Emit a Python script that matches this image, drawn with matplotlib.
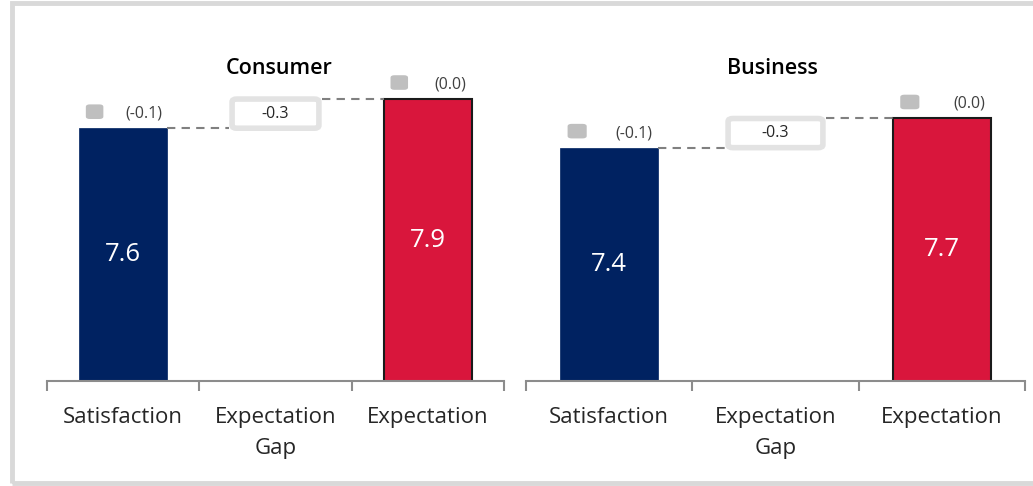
import matplotlib
matplotlib.use("Agg")
import matplotlib.pyplot as plt
from matplotlib.patches import FancyBboxPatch, Rectangle

plt.rcParams['font.family'] = ['Open Sans', 'DejaVu Sans']

# values per segment
segments = ["Consumer", "Business"]
categories = ["Satisfaction", "Expectation\nGap", "Expectation"]
satisfaction = [7.6, 7.4]
expectation = [7.9, 7.7]
sat_change = ["(-0.1)", "(-0.1)"]
exp_change = ["(0.0)", "(0.0)"]

NAVY = "#002261"
RED = "#D9163C"
AXIS_GREY = "#8C8C8C"
Y_MIN, Y_MAX = 5.0, 8.6

fig = plt.figure(figsize=(10.33, 4.86), dpi=100)

# outer light-grey frame (open on the right)
fig.patches.append(Rectangle((12 / 1033, 3 / 486), 1.05, 480 / 486, transform=fig.transFigure,
                             fill=False, edgecolor="#D9D9D9", linewidth=3.5))

panels = [
    dict(rect=[47 / 1033, 105 / 486, 457 / 1033, 350 / 486], bar_w=0.58, title_x=279 / 1033),
    dict(rect=[526 / 1033, 105 / 486, 499 / 1033, 350 / 486], bar_w=0.59, title_x=772 / 1033),
]

for i, p in enumerate(panels):
    ax = fig.add_axes(p["rect"])
    ax.set_xlim(-0.5, 2.5)
    ax.set_ylim(Y_MIN, Y_MAX)
    w = p["bar_w"]
    sat = satisfaction[i]
    exp = expectation[i]
    gap = sat - exp

    ax.bar(0, sat, width=w, color=NAVY, edgecolor=NAVY, linewidth=0.5)
    ax.bar(2, exp, width=w, color=RED, edgecolor="#1A1A1A", linewidth=1.5)

    # values inside bars
    ax.text(0, (Y_MIN + sat) / 2, f"{sat:.1f}", color="white", fontsize=18.5,
            ha="center", va="center")
    ax.text(2, (Y_MIN + exp) / 2, f"{exp:.1f}", color="white", fontsize=18.5,
            ha="center", va="center")

    # gap box between the bars
    mid = (sat + exp) / 2
    bw, bh = 0.57, 0.30
    ax.add_patch(FancyBboxPatch((1 - bw / 2, mid - bh / 2), bw, bh,
                                boxstyle="round,pad=0,rounding_size=0.03",
                                facecolor="white", edgecolor="#E3E3E3", linewidth=4,
                                mutation_aspect=1))
    ax.text(1, mid, f"{gap:.1f}", fontsize=11.5, ha="center", va="center", color="#262626")

    # dashed connectors
    ax.plot([w / 2, 1 - bw / 2 - 0.02], [sat, sat], ls=(0, (4, 3)), color="#808080", lw=1.5)
    ax.plot([1 + bw / 2 + 0.02, 2 - w / 2], [exp, exp], ls=(0, (4, 3)), color="#808080", lw=1.5)

    # change labels with grey swatch above each bar
    for x, top, txt in [(0, sat, sat_change[i]), (2, exp, exp_change[i])]:
        left = x - w / 2
        sq_w, sq_h = 0.115, 0.15
        ax.add_patch(FancyBboxPatch((left + 0.045, top + 0.095), sq_w, sq_h,
                                    boxstyle="round,pad=0,rounding_size=0.025",
                                    facecolor="#BFBFBF", edgecolor="none", clip_on=False))
        ax.text(x + w / 2 - 0.035, top + 0.15, txt, fontsize=11.5, ha="right", va="center",
                color="#404040")

    # axis styling
    for s in ["top", "right", "left"]:
        ax.spines[s].set_visible(False)
    ax.spines["bottom"].set_color(AXIS_GREY)
    ax.spines["bottom"].set_linewidth(1.5)
    ax.set_yticks([])
    ax.set_xticks([-0.5, 0.5, 1.5, 2.5])
    ax.set_xticklabels([])
    ax.tick_params(axis="x", which="major", length=7, width=1.5, color=AXIS_GREY, direction="out")
    ax.set_xticks([0, 1, 2], minor=True)
    ax.set_xticklabels(categories, minor=True, fontsize=16, color="#262626")
    ax.tick_params(axis="x", which="minor", length=0, pad=19)
    for lbl in ax.get_xticklabels(minor=True):
        lbl.set_linespacing(1.6)
        lbl.set_va("top")

    fig.text(p["title_x"], 1 - 68 / 486, segments[i], fontsize=15.5, fontweight="semibold",
             ha="center", va="center", color="black")

fig.savefig("out.png", dpi=100)
